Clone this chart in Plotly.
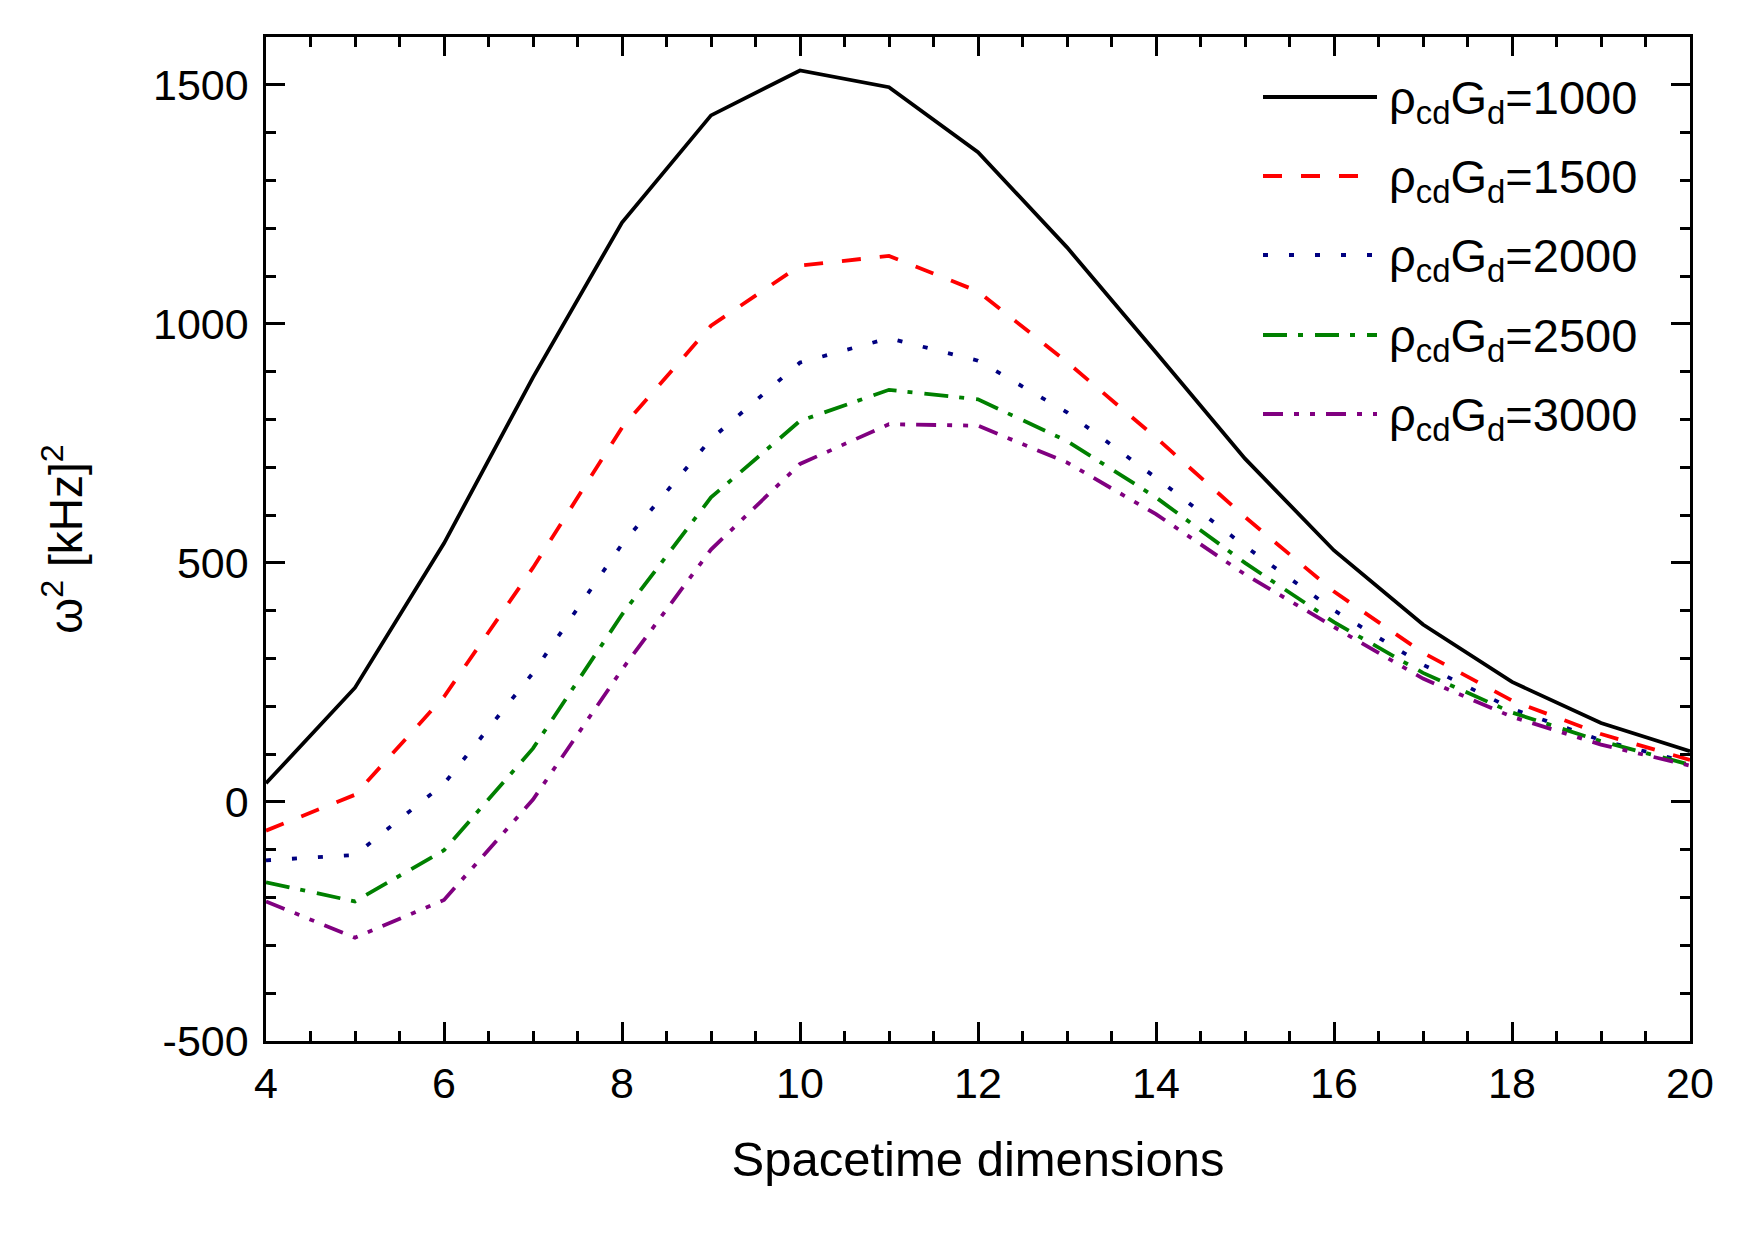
import plotly.graph_objects as go

dims = [4, 5, 6, 7, 8, 9, 10, 11, 12, 13, 14, 15, 16, 17, 18, 19, 20]
w2_1000 = [39, 239, 541, 888, 1212, 1436, 1530, 1495, 1359, 1160, 940, 718, 526, 371, 251, 165, 106]
w2_1500 = [-60, 15, 220, 490, 783, 996, 1122, 1142, 1068, 920, 762, 596, 440, 312, 212, 142, 88]
w2_2000 = [-122, -111, 38, 270, 539, 759, 919, 970, 923, 815, 678, 535, 401, 287, 195, 129, 82]
w2_2500 = [-168, -208, -101, 112, 392, 637, 797, 862, 842, 755, 637, 500, 376, 270, 187, 127, 78]
w2_3000 = [-208, -284, -205, 5, 277, 528, 707, 790, 787, 710, 602, 476, 366, 258, 178, 120, 76]

labels = ["ρ<sub>cd</sub>G<sub>d</sub>=1000", "ρ<sub>cd</sub>G<sub>d</sub>=1500",
          "ρ<sub>cd</sub>G<sub>d</sub>=2000", "ρ<sub>cd</sub>G<sub>d</sub>=2500",
          "ρ<sub>cd</sub>G<sub>d</sub>=3000"]
series = [w2_1000, w2_1500, w2_2000, w2_2500, w2_3000]
colors = ["#000000", "#FF0000", "#000080", "#008000", "#800080"]
dashes = ["solid", "19px,19px", "5px,21px", "24px,11px,5px,12px", "20px,11px,5px,11px,5px,11px"]

xticks = [4, 6, 8, 10, 12, 14, 16, 18, 20]
yticks = [-500, 0, 500, 1000, 1500]

FONT = "Liberation Sans, Arial, Helvetica, sans-serif"

fig = go.Figure()
for lab, vals, col, dsh in zip(labels, series, colors, dashes):
    fig.add_trace(go.Scatter(x=dims, y=vals, mode="lines", name=lab,
                             line=dict(color=col, width=3.8, dash=dsh),
                             showlegend=False))

# custom legend (long line samples like the reference)
W, H = 1755, 1242
L, R, T, B = 266, 65, 37, 201
pw, ph = W - L - R, H - T - B
def px_to_paper_x(px):
    return (px - L) / pw
def px_to_paper_y(py):
    return (H - B - py) / ph

row_y = [97, 176, 255, 335, 414]
for i, (lab, col, dsh) in enumerate(zip(labels, colors, dashes)):
    yy = px_to_paper_y(row_y[i])
    fig.add_shape(type="line", xref="paper", yref="paper",
                  x0=px_to_paper_x(1263), x1=px_to_paper_x(1377), y0=yy, y1=yy,
                  line=dict(color=col, width=4, dash=dsh))
    fig.add_annotation(xref="paper", yref="paper", x=px_to_paper_x(1387), y=yy,
                       xanchor="left", yanchor="middle", showarrow=False,
                       text=lab, yshift=-4,
                       font=dict(family=FONT, size=47, color="black"))

axis_common = dict(showline=True, linecolor="black", linewidth=2.5, mirror="allticks",
                   ticks="inside", ticklen=19, tickwidth=2.5, tickcolor="black",
                   showgrid=False, zeroline=False)

fig.update_xaxes(range=[4, 20], tickvals=xticks, ticktext=[str(v) for v in xticks],
                 tickfont=dict(family=FONT, size=43, color="black"),
                 title=dict(text="Spacetime dimensions", font=dict(family=FONT, size=49, color="black"),
                            standoff=36),
                 minor=dict(ticks="inside", ticklen=10, tickwidth=2.5, tickcolor="black", dtick=0.5,
                            showgrid=False),
                 ticklabelstandoff=3,
                 **axis_common)
fig.update_yaxes(range=[-500, 1600], tickvals=yticks, ticktext=[str(v) for v in yticks],
                 tickfont=dict(family=FONT, size=43, color="black"),
                 title=dict(text="ω<sup>2</sup> [kHz]<sup>2</sup>", font=dict(family=FONT, size=46, color="black"),
                            standoff=56),
                 minor=dict(ticks="inside", ticklen=10, tickwidth=2.5, tickcolor="black", dtick=100,
                            tick0=0, showgrid=False),
                 ticklabelstandoff=6,
                 **axis_common)

fig.update_layout(width=W, height=H, margin=dict(l=L, r=R, t=T, b=B, autoexpand=False),
                  plot_bgcolor="white", paper_bgcolor="white",
                  font=dict(family=FONT, color="black"), showlegend=False)

fig.write_html("out.html")
